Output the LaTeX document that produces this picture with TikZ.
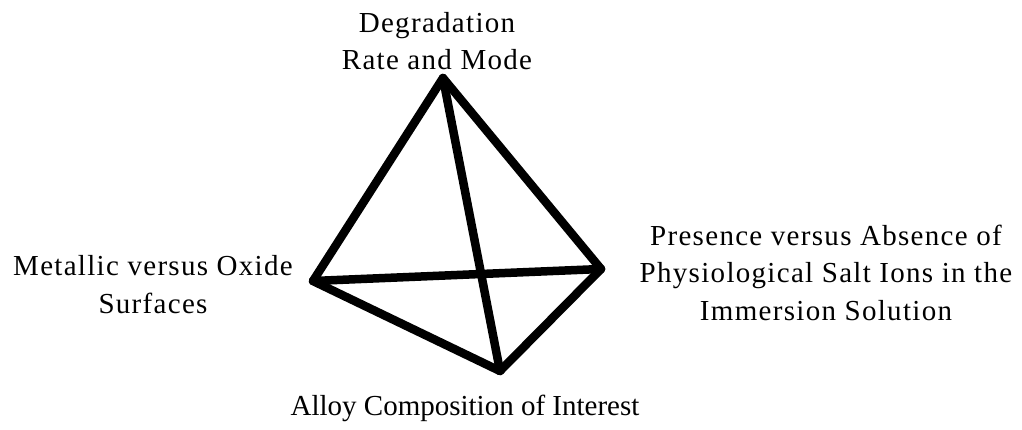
\documentclass[tikz,border=0pt]{standalone}
\usepackage{fontspec}
\setmainfont{Liberation Serif}
\newfontfamily\widefont[LetterSpace=4.5]{Liberation Serif}
\begin{document}
\begin{tikzpicture}[x=1pt,y=-1pt,
  edge/.style={line width=8.5pt,line cap=round,line join=round},
  lbl/.style={align=center,inner sep=0pt,anchor=base,font=\fontsize{29}{37.5}\selectfont},
  wlbl/.style={lbl,font=\widefont\fontsize{29}{37.5}\selectfont}]
\useasboundingbox (0,0) rectangle (1022,430);
\coordinate (T) at (443,78);
\coordinate (L) at (313,281);
\coordinate (R) at (601,269);
\coordinate (B) at (500,371);
\draw[edge] (T) -- (L);
\draw[edge] (T) -- (R);
\draw[edge] (T) -- (B);
\draw[edge] (L) -- (R);
\draw[edge] (L) -- (B);
\draw[edge] (R) -- (B);
\node[wlbl] (tl) at (437,70) {Degradation\\Rate and Mode};
\node[wlbl] (ll) at (153,313) {Metallic versus Oxide\\Surfaces};
\node[wlbl] (rl) at (826,320) {Presence versus Absence of\\Physiological Salt Ions in the\\Immersion Solution};
\node[lbl] (bl) at (465,415) {Alloy Composition of Interest};
\end{tikzpicture}
\end{document}
